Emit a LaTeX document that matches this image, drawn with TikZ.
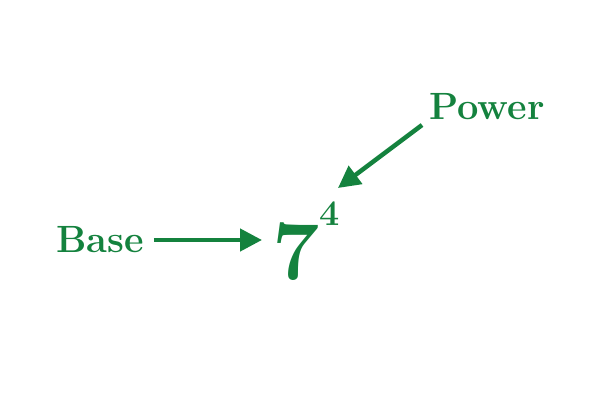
\documentclass[tikz,border=0pt]{standalone}
\usetikzlibrary{arrows.meta}
\definecolor{gr}{RGB}{20,130,62}
\begin{document}
\begin{tikzpicture}[x=1pt,y=-1pt,
 lbl/.style={text=gr,font=\bfseries\fontsize{38}{42}\selectfont,inner sep=0pt},
 arr/.style={draw=gr,line width=4.5pt,-{Triangle[length=22pt,width=22pt]}}]
\useasboundingbox (0,0) rectangle (600,400);
\node[lbl] (base) at (100,240) {Base};
\node[lbl] (power) at (487,107) {Power};
\node[text=gr,font=\bfseries\fontsize{84}{88}\selectfont,inner sep=0pt] (seven) at (296,252) {7};
\node[text=gr,font=\bfseries\fontsize{36}{40}\selectfont,inner sep=0pt] (four) at (330,214) {4};
\coordinate (t1) at (262,240);
\coordinate (t2) at (338,188);
\draw[arr] (base.east) ++(10,0) -- (t1);
\draw[arr] (422,125) -- (t2);
\end{tikzpicture}
\end{document}
